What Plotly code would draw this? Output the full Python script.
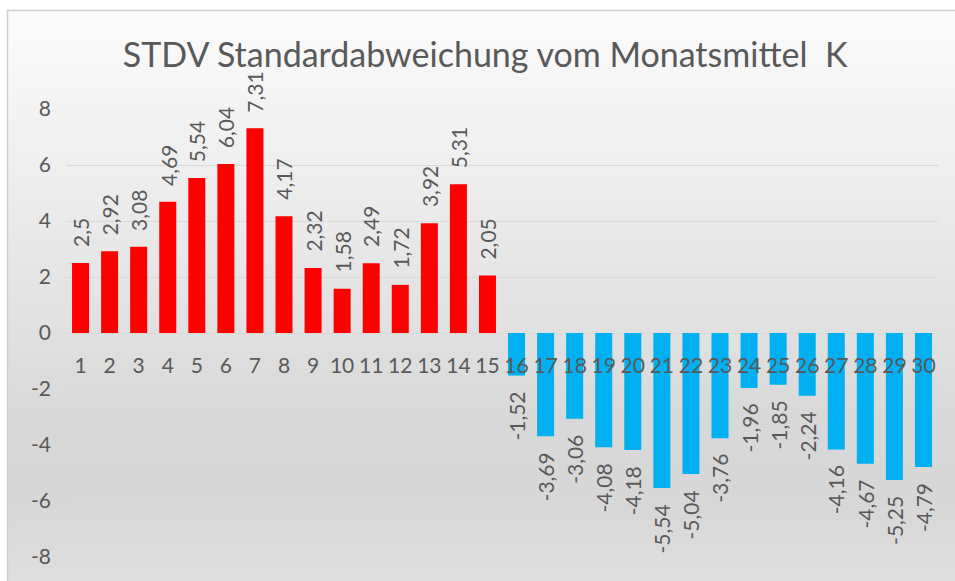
import plotly.graph_objects as go

days = [str(i) for i in range(1, 31)]
values = [2.5, 2.92, 3.08, 4.69, 5.54, 6.04, 7.31, 4.17, 2.32, 1.58, 2.49, 1.72, 3.92, 5.31, 2.05,
          -1.52, -3.69, -3.06, -4.08, -4.18, -5.54, -5.04, -3.76, -1.96, -1.85, -2.24, -4.16, -4.67, -5.25, -4.79]
y_ticks = [-8, -6, -4, -2, 0, 2, 4, 6, 8]
title_text = "STDV Standardabweichung vom Monatsmittel  K"

POS_COLOR = "#FF0000"
NEG_COLOR = "#00B0F0"
TXT = "#595959"
FONT = "Lato"

W, H = 955, 581
M_L, M_R, M_T, M_B = 66, 17, 109, 24
plot_h = H - M_T - M_B


def py2paper(py):
    return (H - M_B - py) / plot_h


def px2paper(px):
    return (px - M_L) / (W - M_L - M_R)


def fmt(v):
    return ("%g" % v).replace(".", ",")


colors = [POS_COLOR if v >= 0 else NEG_COLOR for v in values]

fig = go.Figure()
fig.add_trace(go.Bar(x=days, y=values, marker=dict(color=colors, line=dict(width=0)),
                     hoverinfo="x+y"))

annotations = []
for i, v in enumerate(values):
    annotations.append(dict(
        x=i, y=v, xref="x", yref="y", text=fmt(v), showarrow=False,
        textangle=-90, yanchor="bottom" if v >= 0 else "top",
        yshift=14 if v >= 0 else -14,
        font=dict(family=FONT, size=21, color=TXT)))

# background gradient bands
stops = [(0, (252, 252, 252)), (150, (240, 240, 240)), (300, (227, 227, 227)),
         (420, (216, 216, 216)), (500, (215, 215, 215)), (581, (222, 222, 222))]


def col_at(py):
    for (a, ca), (b, cb) in zip(stops[:-1], stops[1:]):
        if a <= py <= b:
            t = (py - a) / (b - a)
            c = [round(ca[i] + (cb[i] - ca[i]) * t) for i in range(3)]
            return "rgb(%d,%d,%d)" % tuple(c)
    return "rgb(222,222,222)"


shapes = []
band = 6
top = 10
py = top
while py < H:
    py2 = min(py + band, H)
    shapes.append(dict(type="rect", xref="paper", yref="paper", layer="below",
                       x0=px2paper(7), x1=px2paper(W), y0=py2paper(py2), y1=py2paper(py),
                       fillcolor=col_at((py + py2) / 2), line=dict(width=0)))
    py = py2
shapes.append(dict(type="rect", xref="paper", yref="paper", layer="below",
                   x0=px2paper(7.5), x1=px2paper(W + 2), y0=py2paper(H + 2), y1=py2paper(10.5),
                   fillcolor="rgba(0,0,0,0)", line=dict(width=1.5, color="#d0d0d0")))

fig.update_layout(
    width=W, height=H,
    margin=dict(l=M_L, r=M_R, t=M_T, b=M_B),
    paper_bgcolor="white", plot_bgcolor="rgba(0,0,0,0)",
    title=dict(text=title_text, x=0.508, xanchor="center", y=1 - 55 / H, yanchor="middle",
               font=dict(family=FONT, size=34, color=TXT)),
    bargap=0.415,
    showlegend=False,
    xaxis=dict(type="category", anchor="free", position=py2paper(333),
               showline=False, showgrid=False, zeroline=False,
               ticks="outside", ticklen=14, tickcolor="rgba(0,0,0,0)",
               tickfont=dict(family=FONT, size=21, color=TXT)),
    yaxis=dict(range=[-8, 8], tickvals=y_ticks, ticktext=[str(t) for t in y_ticks],
               showgrid=True, gridcolor="#d9d9d9", gridwidth=1.3,
               zeroline=True, zerolinecolor="#d9d9d9", zerolinewidth=1.3,
               showline=False, ticks="", ticklabelstandoff=14,
               tickfont=dict(family=FONT, size=21, color=TXT)),
    annotations=annotations,
    shapes=shapes,
)

fig.write_html("out.html", config={"displayModeBar": False},
               post_script="document.body.style.margin='0';document.body.style.overflow='hidden';")
